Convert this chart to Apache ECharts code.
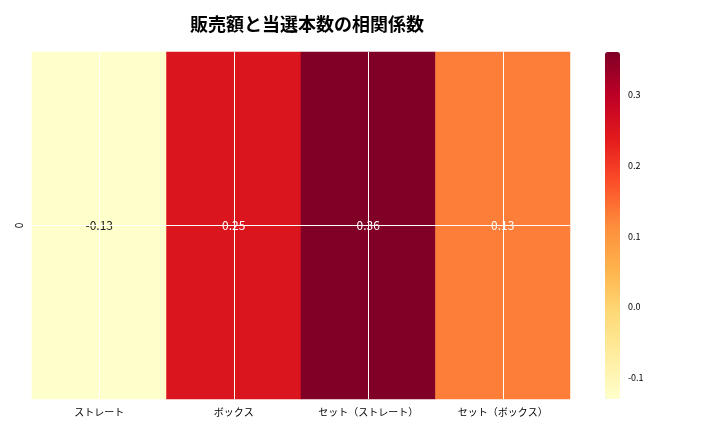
<!DOCTYPE html>
<html><head><meta charset="utf-8">
<script src="https://cdn.jsdelivr.net/npm/echarts@6/dist/echarts.min.js"></script>
</head><body style="margin:0">
<div id="container" style="width:720px;height:432px"></div>
<script>
var categories = ['ストレート', 'ボックス', 'セット（ストレート）', 'セット（ボックス）'];
var rows = ['0'];
var values = [-0.13, 0.25, 0.36, 0.13];
var cbTicks = [-0.1, 0.0, 0.1, 0.2, 0.3];
var vmin = -0.13, vmax = 0.36;

var chart = echarts.init(document.getElementById('container'));
var font = '"Noto Sans CJK JP", sans-serif';
chart.setOption({
  animation: false,
  title: { text: '販売額と当選本数の相関係数', left: 302, top: 10, textAlign: 'center',
    textStyle: { fontFamily: font, fontSize: 18, fontWeight: 'bold', color: '#000' } },
  grid: [
    { left: 32, top: 52, width: 538, height: 347 },
    { left: 605, top: 52, width: 15, height: 347 }
  ],
  xAxis: [
    { type: 'category', data: categories, gridIndex: 0,
      axisLine: { show: false }, axisTick: { alignWithLabel: true, length: 4, lineStyle: { color: '#333' } },
      axisLabel: { fontFamily: font, fontSize: 10, color: '#000' }, splitLine: { show: false } },
    { type: 'value', gridIndex: 1, show: false }
  ],
  yAxis: [
    { type: 'category', data: rows, gridIndex: 0,
      axisLine: { show: false }, axisTick: { alignWithLabel: true, length: 4, lineStyle: { color: '#333' } },
      axisLabel: { fontFamily: font, fontSize: 10, color: '#000', rotate: 90 } },
    { type: 'value', gridIndex: 1, position: 'right', min: vmin, max: vmax,
      axisLine: { show: false }, splitLine: { show: false },
      axisTick: { show: true, length: 4, customValues: cbTicks, lineStyle: { color: '#333' } },
      axisLabel: { fontFamily: font, fontSize: 9, color: '#000', customValues: cbTicks,
        formatter: function (v) { return v.toFixed(1); } } }
  ],
  visualMap: {
    type: 'continuous', min: vmin, max: vmax, calculable: false, show: true,
    left: 605, top: 52, itemWidth: 15, itemHeight: 347, padding: 0, text: null, showLabel: false,
    seriesIndex: 0,
    inRange: { color: ['#ffffcc','#ffeda0','#fed976','#feb24c','#fd8d3c','#fc4e2a','#e31a1c','#bd0026','#800026'] }
  },
  series: [{
    type: 'heatmap',
    data: values.map(function (v, i) { return [i, 0, v]; }),
    label: { show: true, fontFamily: font, fontSize: 12,
      formatter: function (p) { return p.value[2].toFixed(2); },
      color: '#fff' },
    itemStyle: { borderWidth: 0 },
    markLine: {
      silent: true, symbol: 'none', label: { show: false },
      lineStyle: { color: '#fff', width: 1, type: 'solid' },
      data: categories.map(function (c) { return { xAxis: c }; }).concat([{ yAxis: rows[0] }])
    }
  }]
});
// dark text on the lightest cell
var opt = chart.getOption();
opt.series[0].data = values.map(function (v, i) {
  return { value: [i, 0, v], label: { color: v < 0 ? '#222' : '#fff' } };
});
chart.setOption({ series: opt.series });
</script>
</body></html>
